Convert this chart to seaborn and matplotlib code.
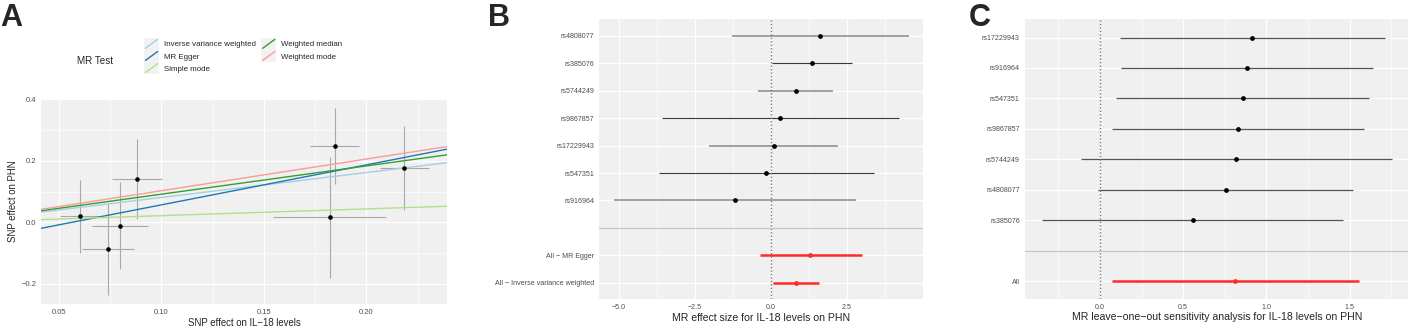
import numpy as np
import matplotlib
matplotlib.use("Agg")
import matplotlib.pyplot as plt
import seaborn as sns
from matplotlib.lines import Line2D
from matplotlib.patches import Rectangle
from matplotlib.legend_handler import HandlerBase
from matplotlib.ticker import MultipleLocator, FixedLocator

# --- DATA: panel A (scatter of SNP effects) ---
snp_x = [0.0604, 0.0739, 0.0798, 0.0882, 0.1845, 0.1820, 0.2181]
snp_x_lo = [0.0505, 0.0614, 0.0660, 0.0760, 0.1726, 0.1544, 0.2064]
snp_x_hi = [0.0703, 0.0866, 0.0936, 0.1004, 0.1963, 0.2097, 0.2303]
snp_y = [0.0194, -0.0872, -0.0120, 0.1410, 0.2488, 0.0184, 0.1755]
snp_y_lo = [-0.100, -0.235, -0.152, 0.0097, 0.126, -0.179, 0.042]
snp_y_hi = [0.137, 0.061, 0.1315, 0.270, 0.3706, 0.212, 0.313]

methods = ["Inverse variance weighted", "MR Egger", "Simple mode",
           "Weighted median", "Weighted mode"]
method_slope = [0.811, 1.299, 0.220, 0.918, 1.030]
method_intercept = [0.0, -0.0728, 0.0, 0.0, 0.0]
method_colors = ["#A6CEE3", "#1F78B4", "#B2DF8A", "#33A02C", "#FB9A99"]

# --- DATA: panel B (single SNP forest) ---
b_snps = ["rs4808077", "rs385076", "rs5744249", "rs9867857",
          "rs17229943", "rs547351", "rs916964"]
b_est = [1.61, 1.35, 0.81, 0.31, 0.09, -0.15, -1.20]
b_lo = [-1.29, 0.04, -0.44, -3.59, -2.03, -3.67, -5.16]
b_hi = [4.52, 2.65, 2.05, 4.20, 2.21, 3.38, 2.79]
b_all = ["All \u2212 MR Egger", "All \u2212 Inverse variance weighted"]
b_all_est = [1.29, 0.82]
b_all_lo = [-0.37, 0.08]
b_all_hi = [2.98, 1.56]
b_xticks = [-5.0, -2.5, 0.0, 2.5]

# --- DATA: panel C (leave-one-out) ---
c_snps = ["rs17229943", "rs916964", "rs547351", "rs9867857",
          "rs5744249", "rs4808077", "rs385076"]
c_est = [0.914, 0.886, 0.858, 0.832, 0.816, 0.756, 0.557]
c_lo = [0.118, 0.128, 0.098, 0.072, -0.116, -0.010, -0.347]
c_hi = [1.711, 1.643, 1.619, 1.589, 1.752, 1.523, 1.463]
c_all = ["All"]
c_all_est = [0.812]
c_all_lo = [0.070]
c_all_hi = [1.555]

W, H = 1408, 327
BG = "#F0F0F0"
TICK_C = "#4D4D4D"
RED = "#FF2A2A"

sns.set_style("darkgrid", {"axes.facecolor": BG, "grid.color": "white"})
plt.rcParams["font.family"] = ["Liberation Sans", "DejaVu Sans"]

minus_fmt = matplotlib.ticker.FuncFormatter(lambda v, p: f"{v:.1f}".replace("-", "\u2212"))


def px_axes(fig, left, top, right, bottom):
    return fig.add_axes([left / W, 1 - bottom / H, (right - left) / W, (bottom - top) / H])


def style_axes(ax, tick_size):
    for s in ax.spines.values():
        s.set_visible(False)
    ax.tick_params(axis="both", which="major", length=2, width=0.5, color="#333333",
                   labelsize=tick_size, labelcolor=TICK_C, pad=1.5)
    ax.tick_params(axis="both", which="minor", length=0)
    ax.grid(which="major", color="white", lw=0.9)
    ax.grid(which="minor", color="white", lw=0.45)
    ax.set_axisbelow(True)


class DiagKey(HandlerBase):
    def create_artists(self, legend, orig_handle, xdescent, ydescent, width, height, fontsize, trans):
        bg = Rectangle((-xdescent, -ydescent), width, height, facecolor="#F2F2F2",
                       edgecolor="none", transform=trans)
        ln = Line2D([-xdescent + 1, -xdescent + width - 1], [-ydescent + 1, -ydescent + height - 1],
                    color=orig_handle.get_color(), lw=1.0, transform=trans)
        return [bg, ln]


fig = plt.figure(figsize=(W / 100, H / 100), dpi=100)

# ---------------- Panel A ----------------
axA = px_axes(fig, 41, 99, 447, 304)
style_axes(axA, 5.5)
axA.set_xlim(0.0413, 0.2393)
axA.set_ylim(-0.265, 0.401)
axA.xaxis.set_major_locator(MultipleLocator(0.05))
axA.xaxis.set_minor_locator(MultipleLocator(0.025))
axA.yaxis.set_major_locator(MultipleLocator(0.2))
axA.yaxis.set_minor_locator(MultipleLocator(0.1))
axA.xaxis.set_major_formatter(matplotlib.ticker.FormatStrFormatter("%.2f"))
axA.yaxis.set_major_formatter(minus_fmt)

axA.vlines(snp_x, snp_y_lo, snp_y_hi, color="#A8A8A8", lw=0.8, zorder=2)
axA.hlines(snp_y, snp_x_lo, snp_x_hi, color="#A8A8A8", lw=0.8, zorder=2)
handles = []
for name, sl, ic, col in zip(methods, method_slope, method_intercept, method_colors):
    axA.axline((0, ic), slope=sl, color=col, lw=1.0, zorder=3)
    handles.append(Line2D([], [], color=col, label=name))
sns.scatterplot(x=snp_x, y=snp_y, ax=axA, color="black", s=11, linewidth=0, zorder=4)
axA.set_xlabel("SNP effect on IL\u221218 levels", fontsize=6.9, labelpad=1.5)
axA.set_ylabel("SNP effect on PHN", fontsize=6.9, labelpad=2)

leg = fig.legend(handles=handles, ncol=2, loc="upper left",
                 bbox_to_anchor=(144 / W, 1 - 38 / H), frameon=False,
                 fontsize=5.7, handlelength=1.9, handleheight=1.9,
                 handletextpad=0.6, labelspacing=0.05, columnspacing=0.7,
                 borderpad=0, borderaxespad=0,
                 handler_map={Line2D: DiagKey()})
fig.text(77 / W, 1 - 61 / H, "MR Test", fontsize=7.1, ha="left", va="center")

# ---------------- Panel B ----------------
axB = px_axes(fig, 599.3, 19.3, 923.3, 299.3)
style_axes(axB, 5.1)
b_labels = b_snps + [""] + b_all
b_pos = np.arange(len(b_labels))
snp_pos = b_pos[:len(b_snps)]
all_pos = b_pos[len(b_snps) + 1:]
gap_pos = len(b_snps)
axB.set_xlim(-5.644, 5.004)
axB.set_ylim(len(b_labels) - 0.4, -0.6)
axB.xaxis.set_major_locator(FixedLocator(b_xticks))
axB.xaxis.set_minor_locator(MultipleLocator(1.25))
axB.xaxis.set_major_formatter(minus_fmt)
axB.set_yticks(b_pos)
axB.set_yticklabels(b_labels)

b_line_cols = ["#A0A0A0", "#3A3A3A"] * 4
b_line_w = [1.4, 0.8] * 4
for yv, lo, hi, c, w in zip(snp_pos, b_lo, b_hi, b_line_cols, b_line_w):
    axB.hlines(yv, lo, hi, color=c, lw=w, zorder=2)
axB.hlines(all_pos, b_all_lo, b_all_hi, color=RED, lw=1.8, zorder=2)
axB.axvline(0, color="#777777", lw=1.0, ls=(0, (1, 1.5)), zorder=2)
axB.axhline(gap_pos, color="#C4C4C4", lw=0.9, zorder=2)
sns.scatterplot(x=b_est, y=snp_pos, ax=axB, color="black", s=12, linewidth=0, zorder=4)
sns.scatterplot(x=b_all_est, y=all_pos, ax=axB, color=RED, s=12, linewidth=0, zorder=4)
axB.set_xlabel("MR effect size for IL-18 levels on PHN", fontsize=7.6, labelpad=1)
axB.set_ylabel("")

# ---------------- Panel C ----------------
axC = px_axes(fig, 1024.7, 19.3, 1409, 299.3)
style_axes(axC, 5.1)
c_labels = c_snps + [""] + c_all
c_pos = np.arange(len(c_labels))
c_snp_pos = c_pos[:len(c_snps)]
c_all_pos = c_pos[len(c_snps) + 1:]
axC.set_xlim(-0.452, 1.857)
axC.set_ylim(len(c_labels) - 0.4, -0.6)
axC.xaxis.set_major_locator(MultipleLocator(0.5))
axC.xaxis.set_minor_locator(MultipleLocator(0.25))
axC.set_yticks(c_pos)
axC.set_yticklabels(c_labels)
axC.hlines(c_snp_pos, c_lo, c_hi, color="#555555", lw=0.9, zorder=2)
axC.hlines(c_all_pos, c_all_lo, c_all_hi, color=RED, lw=1.8, zorder=2)
axC.axvline(0, color="#777777", lw=1.0, ls=(0, (1, 1.5)), zorder=2)
axC.axhline(len(c_snps), color="#C4C4C4", lw=0.9, zorder=2)
sns.scatterplot(x=c_est, y=c_snp_pos, ax=axC, color="black", s=12, linewidth=0, zorder=4)
sns.scatterplot(x=c_all_est, y=c_all_pos, ax=axC, color=RED, s=12, linewidth=0, zorder=4)
axC.set_xlabel("MR leave\u2212one\u2212out sensitivity analysis for IL-18 levels on PHN",
               fontsize=7.6, labelpad=0.5)
axC.set_ylabel("")

# panel letters
for lab, xp in [("A", 0), ("B", 488), ("C", 969)]:
    fig.text(xp / W, 1 - 3 / H, lab, fontsize=22, fontweight="bold", ha="left", va="top")

fig.savefig("out.png", dpi=100)
